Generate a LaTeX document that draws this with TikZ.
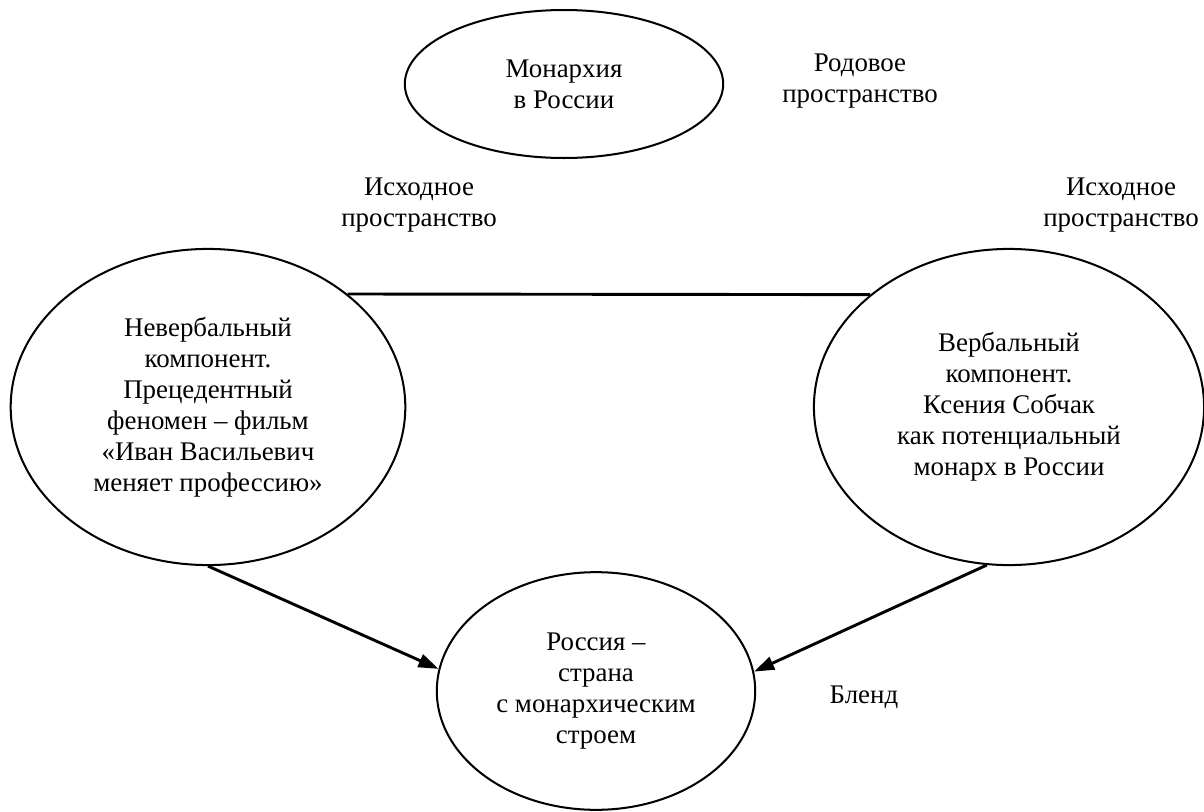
\documentclass[tikz,border=0pt]{standalone}
\usepackage{fontspec}
\setmainfont{Liberation Serif}
\usetikzlibrary{shapes.geometric,arrows.meta}

\begin{document}
\begin{tikzpicture}[
        x=0.446pt, y=-0.446pt,
        >={Triangle[length=9pt,width=6pt]},
        font=\fontsize{12}{13.8}\selectfont
    ]

    \tikzstyle{oval} = [ellipse,draw,line width=0.9pt,inner sep=-15pt,align=center]
    \tikzstyle{caption} = [align=center]
    \tikzstyle{link} = [line width=1.3pt]

    \useasboundingbox (0,0) rectangle (1204,812);

    \node[oval,minimum width=142pt,minimum height=66pt] (genre) at (564,84) {Монархия\\в России};
    \node[oval,minimum width=176pt,minimum height=141pt] (nonverbal) at (208,407)
        {Невербальный\\компонент.\\Прецедентный\\феномен – фильм\\«Иван Васильевич\\меняет профессию»};
    \node[oval,minimum width=174pt,minimum height=141pt] (verbal) at (1009,407)
        {Вербальный\\компонент.\\Ксения Собчак\\как потенциальный\\монарх в России};
    \node[oval,minimum width=142pt,minimum height=106pt] (blend) at (596,691)
        {Россия –\\страна\\с монархическим\\строем};

    \node[caption] (genrelbl) at (860,81) {Родовое\\пространство};
    \node[caption] (input1) at (419,205) {Исходное\\пространство};
    \node[caption] (input2) at (1121,205) {Исходное\\пространство};
    \node[caption] (blendlbl) at (864,697) {Бленд};

    \path[link]
        (nonverbal.39) edge (verbal.141)
        (nonverbal.south) edge[->] (blend.172)
        (verbal.262) edge[->] (blend.7)
    ;

\end{tikzpicture}
\end{document}
